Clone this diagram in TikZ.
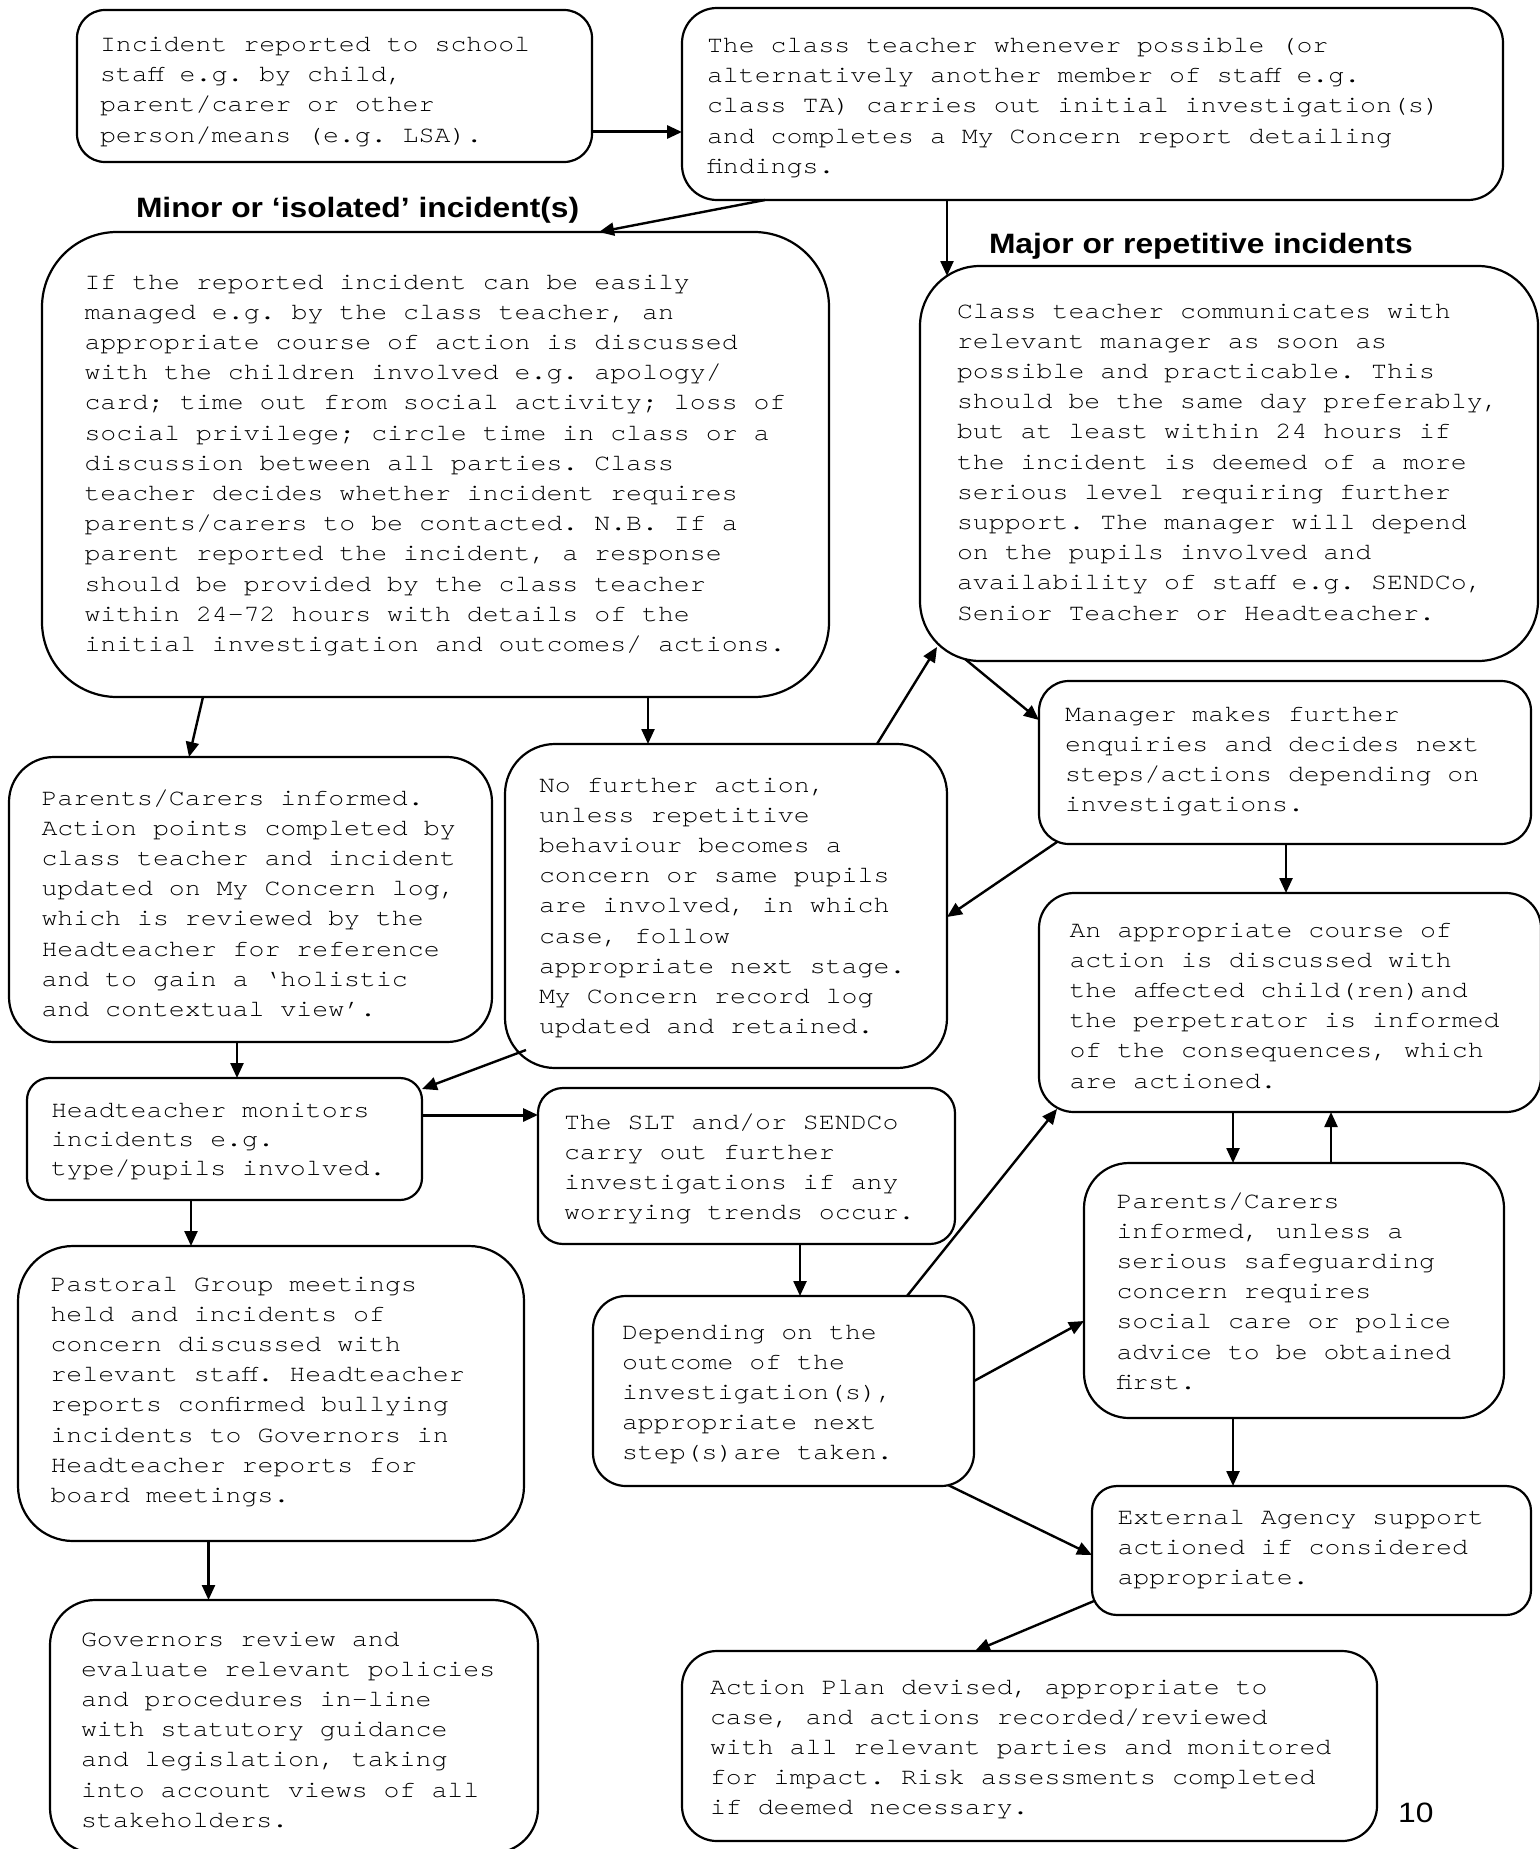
\documentclass[tikz,border=0pt]{standalone}
\usepackage{fontspec}
\usetikzlibrary{arrows.meta}
\newfontfamily\cour[FakeStretch=1.13]{texgyrecursor-regular.otf}
\newfontfamily\headf[FakeStretch=1.135]{Liberation Sans}
\newcommand{\boxlines}[1]{\begin{tabular}[t]{@{}l@{}}#1\end{tabular}}
\begin{document}
\begin{tikzpicture}[x=1pt,y=-1pt,
  box/.style={draw, line width=2.2pt, inner sep=0pt, outer sep=0pt},
  txt/.style={anchor=base west, inner sep=0pt, outer sep=0pt, font=\cour\fontsize{23.5}{30.2}\selectfont\frenchspacing},
  txtb/.style={anchor=base west, inner sep=0pt, outer sep=0pt, font=\cour\fontsize{23.5}{29}\selectfont\frenchspacing},
  head/.style={anchor=base west, inner sep=0pt, outer sep=0pt, font=\headf\bfseries\fontsize{28}{32}\selectfont},
  arr/.style={line width=2.4pt, -{Triangle[length=15pt,width=13pt]}},
  arrthick/.style={line width=3pt, -{Triangle[length=15pt,width=13pt]}}
]
\fill[white] (0,0) rectangle (1539,1849);
\useasboundingbox (0,0) rectangle (1539,1849);

% boxes
\node[box, rounded corners=28pt, minimum width=515pt, minimum height=152pt] (b1) at (334.5,86) {};
\node[box, rounded corners=35pt, minimum width=821pt, minimum height=192pt] (b2) at (1092.5,104) {};
\node[box, rounded corners=75pt, minimum width=787pt, minimum height=465pt] (b3) at (435.5,464.5) {};
\node[box, rounded corners=60pt, minimum width=618pt, minimum height=395pt] (b4) at (1229,463.5) {};
\node[box, rounded corners=30pt, minimum width=492pt, minimum height=163pt] (b5) at (1285,762.5) {};
\node[box, rounded corners=45pt, minimum width=483pt, minimum height=285pt] (b6) at (250.5,899.5) {};
\node[box, rounded corners=50pt, minimum width=442pt, minimum height=324pt] (b7) at (726,906) {};
\node[box, rounded corners=35pt, minimum width=502pt, minimum height=219pt] (b8) at (1290,1002.5) {};
\node[box, rounded corners=22pt, minimum width=395pt, minimum height=122pt] (b9) at (224.5,1139) {};
\node[box, rounded corners=25pt, minimum width=417pt, minimum height=156pt] (b10) at (746.5,1166) {};
\node[box, rounded corners=45pt, minimum width=420pt, minimum height=255pt] (b11) at (1294,1290.5) {};
\node[box, rounded corners=55pt, minimum width=506pt, minimum height=295pt] (b12) at (271,1393.5) {};
\node[box, rounded corners=33pt, minimum width=381pt, minimum height=190pt] (b13) at (783.5,1391) {};
\node[box, rounded corners=25pt, minimum width=439pt, minimum height=129pt] (b14) at (1311.5,1550.5) {};
\node[box, rounded corners=45pt, minimum width=488pt, minimum height=253pt] (b15) at (294,1726.5) {};
\node[box, rounded corners=35pt, minimum width=695pt, minimum height=190pt] (b16) at (1029.5,1746) {};

% texts
\node[txt] (t1) at (100,51.5) {\boxlines{Incident reported to school\\staff e.g. by child,\\parent/carer or other\\person/means (e.g. LSA).}};
\node[txt] (t2) at (707,52.5) {\boxlines{The class teacher whenever possible (or\\alternatively another member of staff e.g.\\class TA) carries out initial investigation(s)\\and completes a My Concern report detailing\\findings.}};
\node[txt] (t3) at (84.5,289) {\boxlines{If the reported incident can be easily\\managed e.g. by the class teacher, an\\appropriate course of action is discussed\\with the children involved e.g. apology/\\card; time out from social activity; loss of\\social privilege; circle time in class or a\\discussion between all parties. Class\\teacher decides whether incident requires\\parents/carers to be contacted. N.B. If a\\parent reported the incident, a response\\should be provided by the class teacher\\within 24-72 hours with details of the\\initial investigation and outcomes/ actions.}};
\node[txt] (t4) at (957,318) {\boxlines{Class teacher communicates with\\relevant manager as soon as\\possible and practicable. This\\should be the same day preferably,\\but at least within 24 hours if\\the incident is deemed of a more\\serious level requiring further\\support. The manager will depend\\on the pupils involved and\\availability of staff e.g. SENDCo,\\Senior Teacher or Headteacher.}};
\node[txt] (t5) at (1065,721) {\boxlines{Manager makes further\\enquiries and decides next\\steps/actions depending on\\investigations.}};
\node[txt] (t6) at (41.5,805) {\boxlines{Parents/Carers informed.\\Action points completed by\\class teacher and incident\\updated on My Concern log,\\which is reviewed by the\\Headteacher for reference\\and to gain a ‘holistic\\and contextual view’.}};
\node[txt] (t7) at (539,792) {\boxlines{No further action,\\unless repetitive\\behaviour becomes a\\concern or same pupils\\are involved, in which\\case, follow\\appropriate next stage.\\My Concern record log\\updated and retained.}};
\node[txt] (t8) at (1069.5,937) {\boxlines{An appropriate course of\\action is discussed with\\the affected child(ren)and\\the perpetrator is informed\\of the consequences, which\\are actioned.}};
\node[txtb] (t9) at (51,1117) {\boxlines{Headteacher monitors\\incidents e.g.\\type/pupils involved.}};
\node[txt] (t10) at (564,1129) {\boxlines{The SLT and/or SENDCo\\carry out further\\investigations if any\\worrying trends occur.}};
\node[txt] (t11) at (1116.5,1208) {\boxlines{Parents/Carers\\informed, unless a\\serious safeguarding\\concern requires\\social care or police\\advice to be obtained\\first.}};
\node[txt] (t12) at (50.5,1291) {\boxlines{Pastoral Group meetings\\held and incidents of\\concern discussed with\\relevant staff. Headteacher\\reports confirmed bullying\\incidents to Governors in\\Headteacher reports for\\board meetings.}};
\node[txt] (t13) at (622,1339) {\boxlines{Depending on the\\outcome of the\\investigation(s),\\appropriate next\\step(s)are taken.}};
\node[txt] (t14) at (1117.5,1524) {\boxlines{External Agency support\\actioned if considered\\appropriate.}};
\node[txt] (t15) at (81,1646) {\boxlines{Governors review and\\evaluate relevant policies\\and procedures in-line\\with statutory guidance\\and legislation, taking\\into account views of all\\stakeholders.}};
\node[txt] (t16) at (710,1694) {\boxlines{Action Plan devised, appropriate to\\case, and actions recorded/reviewed\\with all relevant parties and monitored\\for impact. Risk assessments completed\\if deemed necessary.}};

% headings and page number
\node[head] (hminor) at (136,217) {Minor or ‘isolated’ incident(s)};
\node[head] (hmajor) at (989,253.5) {Major or repetitive incidents};
\node[anchor=base west, inner sep=0pt, font=\headf\fontsize{28}{32}\selectfont] (pnum) at (1398,1822) {10};

% connectors
\draw[arrthick] ([yshift=-46pt]b1.east) -- ([yshift=-28pt]b2.west);
\draw[arr] ([xshift=-327.5pt]b2.south) -- ([xshift=163.5pt]b3.north);
\draw[arr] ([xshift=-145.5pt]b2.south) -- ([xshift=27pt,yshift=-10pt]b4.north west);
\draw[arr] ([xshift=-232.5pt]b3.south) -- ([xshift=-61.5pt]b6.north);
\draw[arr] ([xshift=212.5pt]b3.south) -- ([xshift=-78pt]b7.north);
\draw[arr] ([xshift=151pt]b7.north) -- ([xshift=17pt,yshift=14pt]b4.south west);
\draw[arr] ([xshift=45pt,yshift=2pt]b4.south west) -- ([yshift=42.5pt]b5.west);
\draw[arr] ([xshift=18pt,yshift=2pt]b5.south west) -- ([yshift=-11pt]b7.east);
\draw[arr] ([xshift=1pt]b5.south) -- ([xshift=-4pt]b8.north);
\draw[arr] ([xshift=-13.5pt]b6.south) -- ([xshift=12.5pt]b9.north);
\draw[arr] ([xshift=21pt,yshift=18pt]b7.south west) -- ([yshift=-11pt]b9.north east);
\draw[arrthick] ([yshift=24pt]b9.east) -- ([yshift=51pt]b10.west);
\draw[arr] ([xshift=-33.5pt]b9.south) -- ([xshift=-80pt]b12.north);
\draw[arr] ([xshift=-62.5pt]b12.south) -- ([xshift=-85.5pt]b15.north);
\draw[arr] ([xshift=53.5pt]b10.south) -- ([xshift=16.5pt]b13.north);
\draw[arr] ([xshift=123.5pt]b13.north) -- ([xshift=18pt,yshift=3pt]b8.south west);
\draw[arr] ([yshift=10pt]b13.east) -- ([yshift=-30.5pt]b11.west);
\draw[arr] ([xshift=-26pt,yshift=1pt]b13.south east) -- ([yshift=-4.5pt]b14.west);
\draw[arr] ([xshift=-57pt]b8.south) -- ([xshift=-61pt]b11.north);
\draw[arr] ([xshift=37pt]b11.north) -- ([xshift=41pt]b8.south);
\draw[arr] ([xshift=-61pt]b11.south) -- ([xshift=-78.5pt]b14.north);
\draw[arr] ([xshift=2pt,yshift=14pt]b14.south west) -- ([xshift=-54.5pt]b16.north);
\end{tikzpicture}
\end{document}
